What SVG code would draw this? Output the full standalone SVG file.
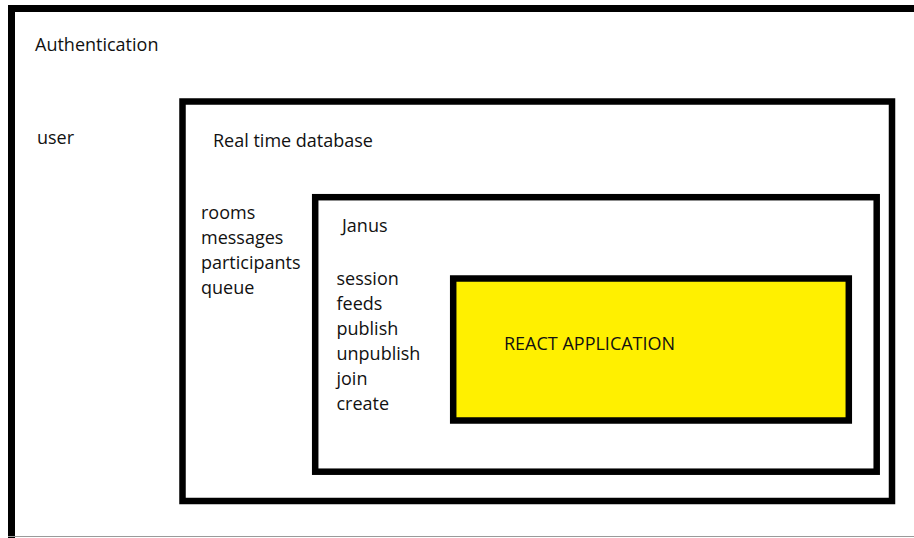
<svg xmlns="http://www.w3.org/2000/svg" width="914" height="538" viewBox="0 0 914 538">
  <style>
    .box { fill: none; stroke: #000; }
    .lbl { font-family: "Open Sans", "Noto Sans", sans-serif; font-size: 18px; fill: #111; }
  </style>
  <rect x="0" y="0" width="914" height="538" fill="#fff"/>
  <g id="authentication">
    <rect class="box" x="11.5" y="8.5" width="1000" height="600" stroke-width="7"/>
    <line x1="8" y1="536.5" x2="914" y2="536.5" stroke="#9a9a9a" stroke-width="1"/>
    <text class="lbl" x="35" y="50.5">Authentication</text>
    <text class="lbl" x="37" y="143.5">user</text>
  </g>
  <g id="realtime-database">
    <rect class="box" x="182.5" y="101.5" width="709.5" height="399.5" stroke-width="6.5"/>
    <text class="lbl" x="213" y="146.5">Real time database</text>
    <text class="lbl" x="201" y="218.5">rooms</text>
    <text class="lbl" x="201" y="243.5">messages</text>
    <text class="lbl" x="201" y="268.5">participants</text>
    <text class="lbl" x="201" y="293.5">queue</text>
  </g>
  <g id="janus">
    <rect class="box" x="315.2" y="197.2" width="561.5" height="274.5" stroke-width="6.5"/>
    <text class="lbl" x="342" y="232">Janus</text>
    <text class="lbl" x="336.5" y="284.5">session</text>
    <text class="lbl" x="336.5" y="309.5">feeds</text>
    <text class="lbl" x="336.5" y="334.5">publish</text>
    <text class="lbl" x="336.5" y="359.5">unpublish</text>
    <text class="lbl" x="336.5" y="384.5">join</text>
    <text class="lbl" x="336.5" y="409.5">create</text>
  </g>
  <g id="react-application">
    <rect x="453.2" y="278.5" width="395.6" height="142" fill="#fff000" stroke="#000" stroke-width="6.5"/>
    <text class="lbl" x="504" y="349.5">REACT APPLICATION</text>
  </g>
  <g id="connectors"/>
</svg>
